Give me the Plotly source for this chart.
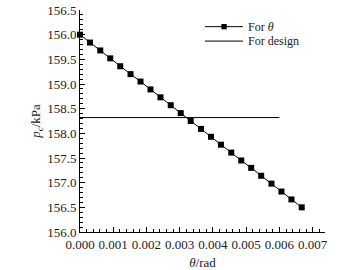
import plotly.graph_objects as go

theta = [0.0, 0.0003, 0.00061, 0.00091, 0.00121, 0.00152, 0.00182, 0.00212, 0.00242,
         0.00273, 0.00303, 0.00333, 0.00364, 0.00394, 0.00424, 0.00455, 0.00485,
         0.00515, 0.00545, 0.00576, 0.00606, 0.00636, 0.00667]
p_theta = [160.00, 159.84, 159.68, 159.52, 159.36, 159.20, 159.05, 158.89, 158.73,
           158.57, 158.41, 158.25, 158.09, 157.93, 157.77, 157.61, 157.45, 157.30,
           157.14, 156.98, 156.82, 156.66, 156.50]
design_x = [0.0, 0.006]
design_y = [158.32, 158.32]

y_tickvals = [156.0, 156.5, 157.0, 157.5, 158.0, 158.5, 159.0, 159.5, 160.0, 160.5]
y_ticktext = ["156.0", "156.5", "157.0", "157.5", "158.0", "158.5", "159.0", "159.5", "156.0", "156.5"]
x_tickvals = [0.000, 0.001, 0.002, 0.003, 0.004, 0.005, 0.006, 0.007]
x_ticktext = ["0.000", "0.001", "0.002", "0.003", "0.004", "0.005", "0.006", "0.007"]
legend_labels = ["For <i>θ</i>", "For design"]

FONT = "Liberation Serif, Times New Roman, serif"
TXT = "#222"

fig = go.Figure()
fig.add_trace(go.Scatter(x=theta, y=p_theta, mode="lines+markers", name=legend_labels[0],
                         line=dict(color="black", width=1),
                         marker=dict(symbol="square", size=6, color="black"),
                         cliponaxis=False, showlegend=False))
fig.add_trace(go.Scatter(x=design_x, y=design_y, mode="lines", name=legend_labels[1],
                         line=dict(color="black", width=1), showlegend=False))

# manual compact legend (paper coordinates of the plot area)
leg_x0, leg_x1, leg_mx, leg_tx = 0.510, 0.665, 0.588, 0.683
leg_rows = [0.925, 0.860]
shapes = []
annotations = []
for i, (lab, yy) in enumerate(zip(legend_labels, leg_rows)):
    shapes.append(dict(type="line", xref="paper", yref="paper", x0=leg_x0, x1=leg_x1,
                       y0=yy, y1=yy, line=dict(color="black", width=1)))
    annotations.append(dict(text=lab, xref="paper", yref="paper", x=leg_tx, y=yy,
                            xanchor="left", yanchor="middle", showarrow=False,
                            borderpad=0, font=dict(size=12, family=FONT, color=TXT)))
shapes.append(dict(type="rect", xref="paper", yref="paper",
                   x0=leg_mx - 0.011, x1=leg_mx + 0.011,
                   y0=leg_rows[0] - 0.012, y1=leg_rows[0] + 0.012,
                   fillcolor="black", line=dict(width=0)))

fig.update_layout(
    template="none",
    width=344, height=270,
    margin=dict(l=80, r=19, t=10, b=38),
    paper_bgcolor="white", plot_bgcolor="white",
    font=dict(family=FONT, size=13, color=TXT),
    showlegend=False,
    shapes=shapes, annotations=annotations,
    xaxis=dict(range=[0, 0.00737], tickvals=x_tickvals, ticktext=x_ticktext, automargin=False,
               showgrid=False, zeroline=False, showline=True, linecolor="black", linewidth=1,
               ticks="inside", ticklen=5, tickcolor="black", tickwidth=1,
               minor=dict(dtick=0.0002, ticks="inside", ticklen=3, tickcolor="black", showgrid=False),
               title=dict(text="<i>θ</i>/rad", font=dict(size=13, family=FONT, color=TXT)),
               tickfont=dict(size=13, family=FONT, color=TXT)),
    yaxis=dict(range=[156.0, 160.5], tickvals=y_tickvals, ticktext=y_ticktext, automargin=False,
               showgrid=False, zeroline=False, showline=True, linecolor="black", linewidth=1,
               ticks="inside", ticklen=5, tickcolor="black", tickwidth=1,
               minor=dict(dtick=0.1, ticks="inside", ticklen=3, tickcolor="black", showgrid=False),
               title=dict(text="<i>p</i><sub>c</sub>/kPa", font=dict(size=13, family=FONT, color=TXT)),
               tickfont=dict(size=13, family=FONT, color=TXT)),
)

fig.write_html("out.html")
